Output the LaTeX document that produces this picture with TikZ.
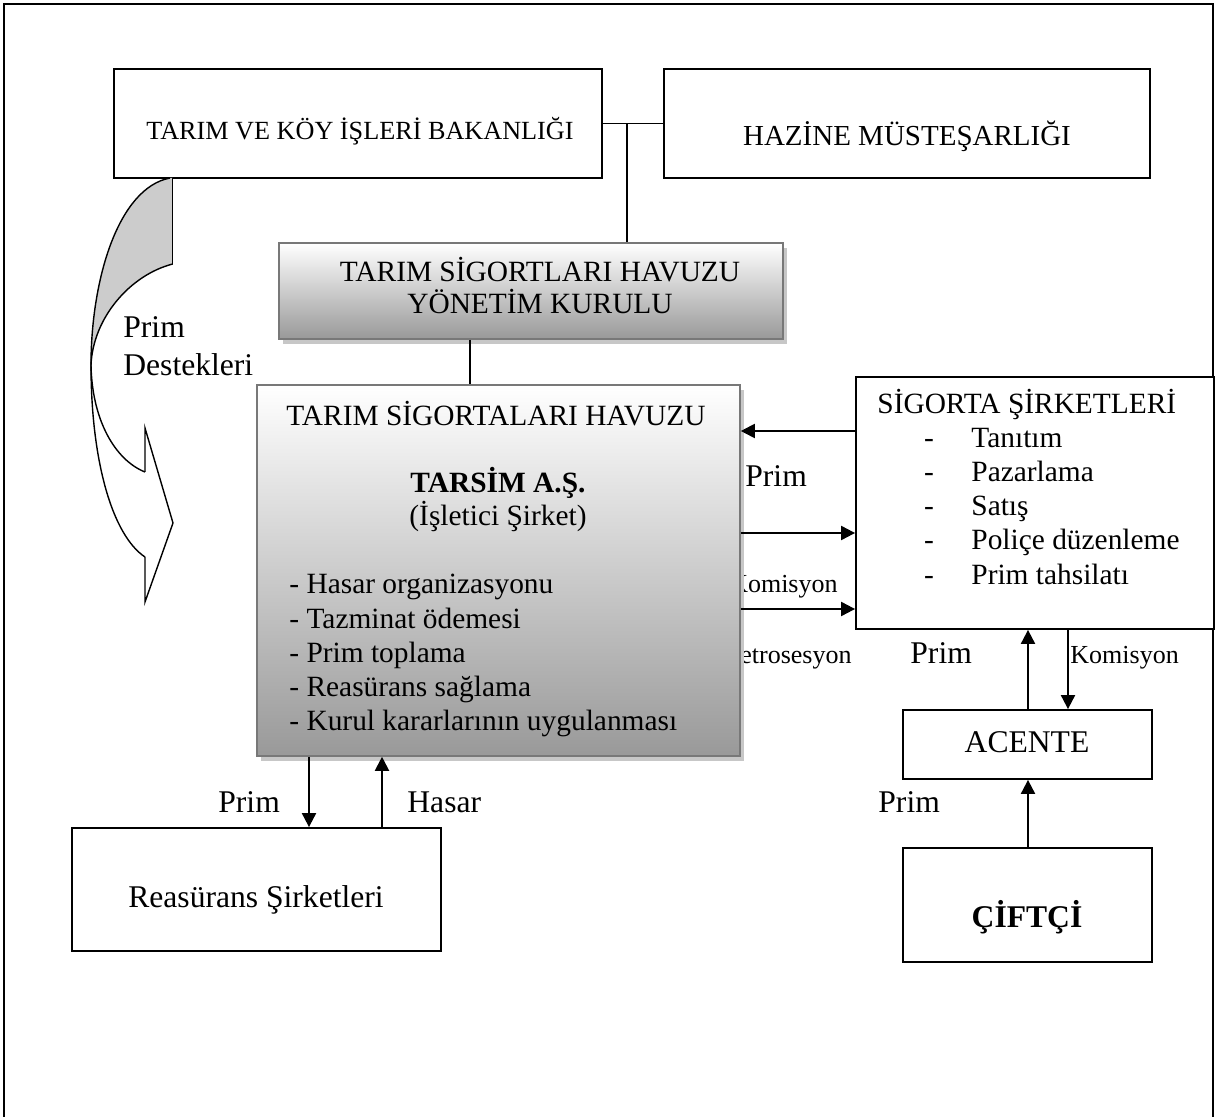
\documentclass[tikz,border=0pt]{standalone}
\usepackage{fontspec}
\setmainfont{Liberation Serif}
\usetikzlibrary{arrows.meta,shadows}
\newcommand\fmain{\fontsize{14.7}{17}\selectfont}
\newcommand\fhaz{\fontsize{14.5}{17}\selectfont}
\newcommand\fbig{\fontsize{15.8}{19}\selectfont}
\newcommand\fsmall{\fontsize{13}{15}\selectfont}
\newcommand\ftarim{\fontsize{13.1}{15}\selectfont}
\definecolor{cgray}{RGB}{153,153,153}
\definecolor{bgray}{RGB}{120,120,120}
\definecolor{agray}{RGB}{204,204,204}
\begin{document}
\begin{tikzpicture}[x=0.5pt,y=-0.5pt,
  box/.style={draw=black,line width=0.9pt,fill=white,inner sep=0pt},
  gbox/.style={draw=bgray,line width=0.8pt,inner sep=0pt,top color=white,bottom color=cgray,
     drop shadow={shadow xshift=2pt,shadow yshift=-2.5pt,fill=black!22,opacity=1}},
  txt/.style={inner sep=0pt,anchor=base},
  txtl/.style={inner sep=0pt,anchor=base west},
  txtr/.style={inner sep=0pt,anchor=base east},
  conn/.style={line width=0.75pt},
  arr/.style={line width=1pt,-{Triangle[length=7pt,width=7pt]}},
  aline/.style={line width=0.7pt,black}]
\useasboundingbox (0,0) rectangle (1216,1117);
% outer frame
\draw[line width=1pt] (4,1117) -- (4,4) -- (1213,4) -- (1213,1117);

% top boxes
\node[box,minimum width=244pt,minimum height=54.5pt] (tarim) at (358,123.5) {};
\node[box,minimum width=243pt,minimum height=54.5pt] (hazine) at (907,123.5) {};
\node[txt,font=\ftarim] (tarimtxt) at (360,140) {TARIM VE KÖY İŞLERİ BAKANLIĞI};
\node[txt,font=\fhaz] (hazinetxt) at (907,146) {HAZİNE MÜSTEŞARLIĞI};
\draw[conn] (tarim.east) -- (hazine.west);
\coordinate (junc) at (627,123.5);

% curved arrow (Prim Destekleri)
\fill[agray] (170,178) -- (172.7,178) -- (172.7,264) .. controls (130,275) and (93,318) .. (91,365)
   .. controls (91,280) and (118,188) .. (170,178) -- cycle;
\draw[aline] (172.7,178) -- (172.7,264);
\draw[aline] (170,178) .. controls (118,188) and (91,280) .. (91,365) .. controls (91,460) and (112,535) .. (145,557);
\draw[aline] (172.7,264) .. controls (130,275) and (93,318) .. (91,365) .. controls (92,420) and (115,460) .. (145,472);
\draw[aline,line join=miter] (145,472) -- (145,428) -- (173,523) -- (145,602) -- (145,557);
\node[txtl,font=\fbig] (pd1) at (123,338) {Prim};
\node[txtl,font=\fbig] (pd2) at (123,376) {Destekleri};

% Yonetim kurulu
\node[gbox,minimum width=252pt,minimum height=48pt] (yon) at (531,291) {};
\node[txt,font=\fmain] (yon1) at (540,282) {TARIM SİGORTLARI HAVUZU};
\node[txt,font=\fmain] (yon2) at (540,314) {YÖNETİM KURULU};
\draw[conn] (junc) -- (junc |- yon.north);

% labels partly hidden behind the central box
\node[txtr,font=\fsmall] (kom1) at (838,592) {Komisyon};
\node[txtr,font=\fsmall] (retro) at (852,663) {Retrosesyon};

% central box
\node[gbox,minimum width=241.5pt,minimum height=185.5pt] (cen) at (498.5,570.5) {};
\coordinate (yx) at (470,0);
\draw[conn] (yon.south -| yx) -- (cen.north -| yx);
\node[txt,font=\fmain] (cen1) at (496,426) {TARIM SİGORTALARI HAVUZU};
\node[txt,font=\fmain\bfseries] (cen2) at (498,493) {TARSİM A.Ş.};
\node[txt,font=\fmain] (cen3) at (498,526) {(İşletici Şirket)};
\node[txtl,font=\fmain] (l1) at (289,594) {- Hasar organizasyonu};
\node[txtl,font=\fmain] (l2) at (289,628) {- Tazminat ödemesi};
\node[txtl,font=\fmain] (l3) at (289,662) {- Prim toplama};
\node[txtl,font=\fmain] (l4) at (289,696) {- Reasürans sağlama};
\node[txtl,font=\fmain] (l5) at (289,730) {- Kurul kararlarının uygulanması};

% sigorta sirketleri
\node[box,minimum width=179pt,minimum height=126pt] (sig) at (1035,503) {};
\node[txtl,font=\fmain] (sigt) at (877,414) {SİGORTA ŞİRKETLERİ};
\node[txt,font=\fmain] (d1) at (929,448) {-};
\node[txt,font=\fmain] (d2) at (929,482) {-};
\node[txt,font=\fmain] (d3) at (929,516) {-};
\node[txt,font=\fmain] (d4) at (929,550) {-};
\node[txt,font=\fmain] (d5) at (929,584) {-};
\node[txtl,font=\fmain] (s1) at (971,448) {Tanıtım};
\node[txtl,font=\fmain] (s2) at (971,482) {Pazarlama};
\node[txtl,font=\fmain] (s3) at (971,516) {Satış};
\node[txtl,font=\fmain] (s4) at (971,550) {Poliçe düzenleme};
\node[txtl,font=\fmain] (s5) at (971,584) {Prim tahsilatı};

% arrows central <-> sigorta
\coordinate (ya) at (0,431);
\coordinate (yb) at (0,533);
\coordinate (yc) at (0,609);
\draw[arr] (sig.west |- ya) -- (cen.east |- ya);
\draw[arr] (cen.east |- yb) -- (sig.west |- yb);
\draw[arr] (cen.east |- yc) -- (sig.west |- yc);
\node[txtl,font=\fbig] (prim1) at (745,487) {Prim};

% acente, ciftci
\node[box,minimum width=124.5pt,minimum height=34.5pt] (acente) at (1027.5,744.5) {};
\node[txt,font=\fbig] (acentetxt) at (1027,752) {ACENTE};
\node[box,minimum width=124.5pt,minimum height=57pt] (ciftci) at (1027.5,905) {};
\node[txt,font=\fbig\bfseries] (ciftcitxt) at (1027,927) {ÇİFTÇİ};
\coordinate (xa) at (1028,0);
\coordinate (xb) at (1068,0);
\draw[arr] (acente.north -| xa) -- (sig.south -| xa);
\draw[arr] (sig.south -| xb) -- (acente.north -| xb);
\draw[arr] (ciftci.north -| xa) -- (acente.south -| xa);
\node[txtl,font=\fbig] (prim2) at (910,663) {Prim};
\node[txtl,font=\fsmall] (kom2) at (1070,663) {Komisyon};
\node[txtl,font=\fbig] (prim3) at (878,812) {Prim};

% reasurans
\node[box,minimum width=184.5pt,minimum height=61.5pt] (reas) at (256.5,889.5) {};
\node[txt,font=\fbig] (reastxt) at (256,907) {Reasürans Şirketleri};
\coordinate (xp) at (309,0);
\coordinate (xh) at (382,0);
\draw[arr] (cen.south -| xp) -- (reas.north -| xp);
\draw[arr] (reas.north -| xh) -- (cen.south -| xh);
\node[txtl,font=\fbig] (prim4) at (218,812) {Prim};
\node[txtl,font=\fbig] (hasar) at (407,812) {Hasar};
\end{tikzpicture}
\end{document}
